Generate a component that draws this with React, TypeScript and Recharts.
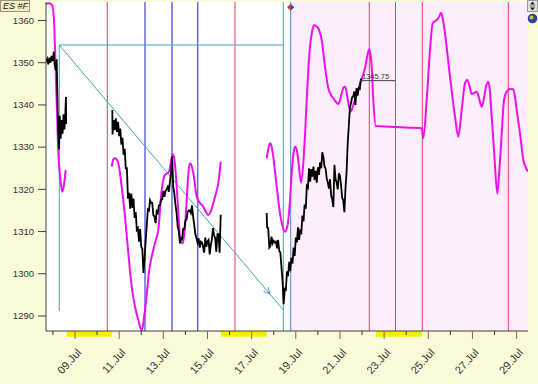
import React from 'react';
import {
  ComposedChart,
  Line,
  XAxis,
  YAxis,
  ReferenceLine,
  ReferenceArea,
  ReferenceDot,
  CartesianGrid,
} from 'recharts';

// ---------- axis ranges & ticks ----------
const X_MIN = 7.687;
const X_MAX = 29.516;
const Y_MIN = 1286.44;
const Y_MAX = 1364.38;
const yTicks = [1290, 1300, 1310, 1320, 1330, 1340, 1350, 1360];
const dayTicks = [8, 9, 10, 11, 12, 13, 14, 15, 16, 17, 18, 19, 20, 21, 22, 23, 24, 25, 26, 27, 28, 29];
const monthLabel = 'Jul';

// ---------- annotations ----------
const redLines = [10.463, 16.246, 22.329, 23.515, 24.729, 28.624];
const blueLines = [12.17, 13.393, 14.557];
const projectionStart = 18.769;
const tealVertical = 18.434;
const tealStart = { d: 8.289, v: 1354.2 };
const tealLow = { d: 8.289, v: 1291.2 };
const arrowEnd = { d: 18.434, v: 1291.42 };
const yellowBands = [
  [8.624, 10.662],
  [15.612, 17.682],
  [22.632, 24.702],
];
const lastPrice = 1345.75;
const lastPriceSpan = [21.908, 23.493];
const markerDiamond = { d: 18.769, v: 1363.13 };

// ---------- magenta cycle curve (3 segments) ----------
const magentaA: [number, number][] = [
  [7.69, 1363.9], [7.82, 1364.1], [7.96, 1363.7], [8.05, 1360.1], [8.09, 1354.2], [8.14, 1345.9],
  [8.19, 1337.6], [8.23, 1330.5], [8.28, 1325.8], [8.37, 1321.0], [8.43, 1319.4], [8.5, 1321.0], [8.58, 1324.6],
];
const magentaB: [number, number][] = [
  [10.662, 1325.37], [10.744, 1327.19], [10.812, 1327.36], [10.902, 1326.95], [10.961, 1326.24], [11.038, 1323.87],
  [11.115, 1320.63], [11.265, 1313.52], [11.414, 1304.92], [11.568, 1296.94], [11.717, 1292.2], [11.867, 1289.05],
  [12.021, 1286.5], [12.125, 1289.52], [12.247, 1294.97], [12.351, 1300.42], [12.474, 1304.04], [12.623, 1307.29],
  [12.773, 1310.37], [12.927, 1319.85], [13.076, 1323.4], [13.257, 1324.18], [13.348, 1326.48], [13.425, 1328.37],
  [13.506, 1326.95], [13.606, 1320.63], [13.687, 1313.92], [13.755, 1308.78], [13.878, 1307.22], [13.959, 1309.66],
  [14.059, 1317.48], [14.14, 1324.11], [14.208, 1326.17], [14.285, 1325.53], [14.358, 1323.87], [14.512, 1318.26],
  [14.661, 1316.77], [14.811, 1315.89], [14.933, 1314.63], [15.037, 1313.92], [15.159, 1314.87], [15.264, 1316.69],
  [15.386, 1319.13], [15.49, 1321.43], [15.599, 1326.55],
];
const magentaC: [number, number][] = [
  [17.682, 1327.36], [17.764, 1329.8], [17.832, 1330.91], [17.909, 1330.03], [17.981, 1327.73], [18.135, 1320.63],
  [18.284, 1314.33], [18.398, 1311.32], [18.511, 1309.97], [18.601, 1310.84], [18.66, 1312.74], [18.737, 1317.48],
  [18.814, 1323.8], [18.887, 1328.14], [18.964, 1330.1], [19.041, 1329.32], [19.113, 1326.95], [19.236, 1321.58],
  [19.34, 1326.17], [19.417, 1332.88], [19.494, 1341.17], [19.566, 1348.27], [19.643, 1353.79], [19.734, 1357.28],
  [19.824, 1358.93], [19.915, 1358.7], [20.019, 1358.15], [20.173, 1355.38], [20.323, 1349.06], [20.472, 1343.94],
  [20.594, 1342.35], [20.698, 1341.57], [20.821, 1340.69], [20.925, 1340.22], [21.002, 1341.17], [21.079, 1342.75],
  [21.151, 1344.01], [21.228, 1344.32], [21.283, 1343.54], [21.332, 1341.95], [21.486, 1338.39], [21.591, 1339.75],
  [21.681, 1341.17], [21.908, 1345.12], [22.134, 1348.68], [22.247, 1351.83], [22.329, 1353.18], [22.383, 1351.83],
  [22.437, 1349.06], [22.51, 1341.17], [22.619, 1335.01], [22.813, 1334.96], [23.266, 1334.84], [23.719, 1334.72],
  [24.172, 1334.6], [24.702, 1334.46], [24.774, 1332.09], [24.928, 1341.17], [25.078, 1353.01], [25.2, 1359.34],
  [25.381, 1360.12], [25.486, 1360.83], [25.576, 1361.85], [25.667, 1360.12], [25.757, 1356.97], [25.984, 1346.69],
  [26.21, 1337.21], [26.36, 1332.47], [26.514, 1338.8], [26.663, 1345.12], [26.767, 1345.9], [26.867, 1344.48],
  [26.967, 1342.59], [27.071, 1342.82], [27.193, 1343.13], [27.297, 1341.64], [27.419, 1339.58], [27.524, 1341.64],
  [27.614, 1344.32], [27.718, 1345.5], [27.795, 1343.06], [27.841, 1339.58], [27.977, 1329.32], [28.126, 1319.06],
  [28.203, 1323.4], [28.28, 1329.32], [28.362, 1336.43], [28.43, 1341.17], [28.552, 1343.13], [28.701, 1343.77],
  [28.851, 1343.7], [28.928, 1341.88], [29.004, 1338.8], [29.154, 1333.28], [29.304, 1326.95], [29.426, 1325.06],
  [29.5, 1324.18],
];

// ---------- price series (3 segments) ----------
const priceA: [number, number][] = [
  [7.69, 1350.2], [7.74, 1350.9], [7.79, 1349.6], [7.84, 1351.2], [7.89, 1350.0], [7.94, 1351.6], [7.99, 1350.4],
  [8.04, 1352.6], [8.08, 1349.4], [8.13, 1348.2], [8.17, 1350.8], [8.2, 1343.0], [8.24, 1334.0], [8.28, 1329.5],
  [8.31, 1337.4], [8.35, 1332.0], [8.4, 1336.4], [8.44, 1333.2], [8.48, 1337.8], [8.52, 1334.2], [8.56, 1337.6],
  [8.59, 1341.9], [8.6, 1335.5],
];
const priceB: [number, number][] = [
  [10.69, 1338.8], [10.7, 1333.0], [10.75, 1336.4], [10.8, 1334.0], [10.85, 1336.8], [10.9, 1333.6], [10.95, 1336.0],
  [11.0, 1332.6], [11.05, 1334.4], [11.1, 1330.6], [11.15, 1332.2], [11.2, 1328.2], [11.25, 1329.6], [11.3, 1325.0],
  [11.35, 1325.0], [11.4, 1317.8], [11.45, 1319.2], [11.5, 1315.4], [11.55, 1319.0], [11.6, 1315.6], [11.65, 1317.8],
  [11.7, 1313.2], [11.75, 1314.6], [11.8, 1310.4], [11.85, 1310.8], [11.9, 1307.6], [11.95, 1310.6], [12.0, 1306.4],
  [12.05, 1305.9], [12.1, 1300.2], [12.15, 1303.4], [12.2, 1307.8], [12.25, 1311.4], [12.3, 1315.2], [12.35, 1315.0],
  [12.4, 1317.4], [12.45, 1316.8], [12.5, 1316.8], [12.55, 1313.8], [12.6, 1313.6], [12.65, 1312.0], [12.7, 1314.8],
  [12.75, 1314.4], [12.8, 1316.2], [12.85, 1316.2], [12.9, 1317.6], [12.95, 1317.6], [13.0, 1319.6], [13.05, 1318.2],
  [13.1, 1319.6], [13.15, 1320.0], [13.2, 1320.6], [13.25, 1319.4], [13.3, 1321.8], [13.35, 1324.0], [13.4, 1327.8],
  [13.45, 1320.6], [13.5, 1319.0], [13.55, 1316.4], [13.6, 1314.4], [13.65, 1311.2], [13.7, 1310.2], [13.75, 1307.2],
  [13.8, 1308.4], [13.85, 1308.2], [13.9, 1310.6], [13.95, 1310.6], [14.0, 1312.6], [14.05, 1312.8], [14.1, 1314.6],
  [14.15, 1315.0], [14.2, 1315.0], [14.25, 1314.4], [14.3, 1316.2], [14.35, 1313.6], [14.4, 1311.6], [14.45, 1309.4],
  [14.5, 1308.4], [14.55, 1307.4], [14.6, 1308.4], [14.65, 1306.2], [14.7, 1307.6], [14.75, 1307.4], [14.8, 1306.4],
  [14.85, 1305.0], [14.9, 1308.6], [14.95, 1306.4], [15.0, 1307.6], [15.05, 1308.0], [15.1, 1304.6], [15.15, 1306.8],
  [15.2, 1308.2], [15.25, 1310.8], [15.3, 1309.2], [15.35, 1308.4], [15.4, 1305.2], [15.45, 1309.4], [15.5, 1309.4],
  [15.55, 1305.0], [15.6, 1314.0],
];
const priceC: [number, number][] = [
  [17.68, 1314.4], [17.7, 1311.0], [17.75, 1310.8], [17.8, 1306.2], [17.85, 1306.6], [17.9, 1308.8], [17.95, 1307.2],
  [18.0, 1307.8], [18.05, 1307.4], [18.1, 1307.6], [18.15, 1306.0], [18.2, 1308.0], [18.25, 1305.4], [18.3, 1305.0],
  [18.35, 1301.6], [18.4, 1298.2], [18.45, 1292.8], [18.5, 1296.4], [18.55, 1296.2], [18.6, 1300.6], [18.65, 1299.4],
  [18.7, 1302.8], [18.75, 1300.6], [18.8, 1303.8], [18.85, 1302.4], [18.9, 1306.2], [18.95, 1304.2], [19.0, 1308.6],
  [19.05, 1307.4], [19.1, 1311.0], [19.15, 1308.0], [19.2, 1310.2], [19.25, 1309.8], [19.3, 1313.8], [19.35, 1312.4],
  [19.4, 1316.4], [19.45, 1315.4], [19.5, 1320.8], [19.55, 1320.4], [19.6, 1325.0], [19.65, 1321.8], [19.7, 1324.8],
  [19.75, 1323.0], [19.8, 1325.4], [19.85, 1322.2], [19.9, 1324.4], [19.95, 1321.6], [20.0, 1325.2], [20.05, 1323.4],
  [20.1, 1326.4], [20.15, 1325.0], [20.2, 1328.8], [20.25, 1327.6], [20.3, 1325.4], [20.35, 1324.9], [20.4, 1322.6],
  [20.45, 1321.6], [20.5, 1320.2], [20.55, 1322.4], [20.6, 1318.6], [20.65, 1317.6], [20.7, 1315.8], [20.75, 1325.8],
  [20.8, 1322.4], [20.85, 1321.6], [20.9, 1320.0], [20.95, 1323.8], [21.0, 1323.2], [21.05, 1321.0], [21.1, 1318.0],
  [21.15, 1317.4], [21.2, 1314.6], [21.25, 1320.2], [21.3, 1324.2], [21.35, 1330.8], [21.4, 1335.0], [21.45, 1339.4],
  [21.5, 1340.4], [21.55, 1341.8], [21.6, 1342.0], [21.65, 1343.2], [21.7, 1340.0], [21.75, 1344.0], [21.8, 1342.2],
  [21.85, 1344.0], [21.9, 1343.8], [21.95, 1346.2], [21.98, 1345.75],
];

const toPts = (arr: [number, number][]) => arr.map(([d, v]) => ({ d, v }));

const RED = '#E0405E';
const BLUE = '#6666DD';
const TEAL = '#45A0B5';
const MAGENTA = '#EE11EE';
const FONT = 'Arial, "Liberation Sans", sans-serif';

const XTick = (props: any) => {
  const { x, y, payload } = props;
  const day = payload.value as number;
  const major = day % 2 === 1;
  const label = `${String(day).padStart(2, '0')}.${monthLabel}`;
  return (
    <g>
      <line x1={x} x2={x} y1={y} y2={y + (major ? 8 : 4)} stroke={major ? '#B05048' : '#333'} strokeWidth={1} />
      {major && (
        <text
          transform={`translate(${x + 7},${y + 22}) rotate(-48)`}
          textAnchor="end"
          fontSize={11}
          fill="#333"
          fontFamily={FONT}
        >
          {label}
        </text>
      )}
    </g>
  );
};

const ArrowShape = (p: any) => {
  const { x1, y1, x2, y2 } = p;
  const t = 0.94;
  const ax = x1 + (x2 - x1) * t;
  const ay = y1 + (y2 - y1) * t;
  const ang = Math.atan2(y2 - y1, x2 - x1);
  const L = 7;
  const w = 0.45;
  const a1x = ax - L * Math.cos(ang - w);
  const a1y = ay - L * Math.sin(ang - w);
  const a2x = ax - L * Math.cos(ang + w);
  const a2y = ay - L * Math.sin(ang + w);
  return (
    <g>
      <line x1={x1} y1={y1} x2={x2} y2={y2} stroke={TEAL} strokeWidth={1} />
      <polyline points={`${a1x},${a1y} ${ax},${ay} ${a2x},${a2y}`} fill="none" stroke={TEAL} strokeWidth={1} />
    </g>
  );
};

const PriceTag = (p: any) => {
  const { x1, y1, x2, y2 } = p;
  return (
    <g>
      <line x1={x1} y1={y1} x2={x2} y2={y2} stroke="#404040" strokeWidth={1} />
      <text x={x1 + 2} y={y1 - 2} fontSize={7.5} fill="#333" fontFamily={FONT}>
        {lastPrice.toFixed(2)}
      </text>
    </g>
  );
};

const Diamond = (p: any) => {
  const { cx, cy } = p;
  return (
    <g>
      <polygon points={`${cx},${cy - 3.5} ${cx + 3.5},${cy} ${cx},${cy + 3.5}`} fill="#3344CC" />
      <polygon points={`${cx},${cy - 3.5} ${cx - 3.5},${cy} ${cx},${cy + 3.5}`} fill="#CC3333" />
    </g>
  );
};

export default function App() {
  return (
    <div
      style={{
        position: 'absolute',
        left: 0,
        top: 0,
        width: 538,
        height: 384,
        background: '#FBFBDA',
        fontFamily: FONT,
      }}
    >
      <ComposedChart
        width={538}
        height={384}
        margin={{ top: 2, right: 10, bottom: 0, left: 0 }}
        style={{ fontFamily: FONT }}
      >
        <CartesianGrid fill="#FFFFFF" horizontal={false} vertical={false} />
        <XAxis
          type="number"
          dataKey="d"
          domain={[X_MIN, X_MAX]}
          allowDataOverflow
          ticks={dayTicks}
          interval={0}
          height={53}
          tickSize={0}
          tickMargin={0}
          tickLine={false}
          tick={<XTick />}
          axisLine={{ stroke: '#404040' }}
        />
        <YAxis
          type="number"
          dataKey="v"
          domain={[Y_MIN, Y_MAX]}
          allowDataOverflow
          ticks={yTicks}
          width={46}
          tickSize={8}
          tickMargin={4}
          tick={{ fontSize: 9.5, fill: '#333', fontFamily: FONT }}
          tickLine={{ stroke: '#404040' }}
          axisLine={{ stroke: '#404040' }}
        />
        <ReferenceArea
          x1={projectionStart}
          x2={X_MAX}
          y1={Y_MIN}
          y2={Y_MAX}
          fill="#FDEEFD"
          fillOpacity={1}
          stroke="none"
        />
        {yellowBands.map(([a, b], i) => (
          <ReferenceArea
            key={`yb${i}`}
            x1={a}
            x2={b}
            y1={1285.1}
            y2={Y_MIN}
            fill="#F2F200"
            fillOpacity={1}
            stroke="none"
            ifOverflow="visible"
          />
        ))}
        {redLines.map((d, i) => (
          <ReferenceLine key={`r${i}`} x={d} stroke={RED} strokeWidth={1} />
        ))}
        {blueLines.map((d, i) => (
          <ReferenceLine key={`b${i}`} x={d} stroke={BLUE} strokeWidth={1.5} />
        ))}
        <ReferenceLine x={tealVertical} stroke={TEAL} strokeWidth={1} />
        <ReferenceLine x={projectionStart} stroke="#4A88C0" strokeWidth={1} />
        <ReferenceLine
          segment={[
            { x: tealStart.d, y: tealStart.v },
            { x: tealVertical, y: tealStart.v },
          ]}
          stroke={TEAL}
          strokeWidth={1}
        />
        <ReferenceLine
          segment={[
            { x: tealStart.d, y: tealStart.v },
            { x: tealLow.d, y: tealLow.v },
          ]}
          stroke={TEAL}
          strokeWidth={1}
        />
        <ReferenceLine
          segment={[
            { x: tealStart.d, y: tealStart.v },
            { x: arrowEnd.d, y: arrowEnd.v },
          ]}
          shape={ArrowShape}
        />
        <Line data={toPts(magentaA)} dataKey="v" type="monotone" stroke={MAGENTA} strokeWidth={2} dot={false} isAnimationActive={false} />
        <Line data={toPts(magentaB)} dataKey="v" type="monotone" stroke={MAGENTA} strokeWidth={2} dot={false} isAnimationActive={false} />
        <Line data={toPts(magentaC)} dataKey="v" type="monotone" stroke={MAGENTA} strokeWidth={2} dot={false} isAnimationActive={false} />
        <Line data={toPts(priceA)} dataKey="v" type="linear" stroke="#000" strokeWidth={1.8} dot={false} isAnimationActive={false} />
        <Line data={toPts(priceB)} dataKey="v" type="linear" stroke="#000" strokeWidth={1.8} dot={false} isAnimationActive={false} />
        <Line data={toPts(priceC)} dataKey="v" type="linear" stroke="#000" strokeWidth={1.8} dot={false} isAnimationActive={false} />
        <ReferenceLine
          segment={[
            { x: lastPriceSpan[0], y: lastPrice },
            { x: lastPriceSpan[1], y: lastPrice },
          ]}
          shape={PriceTag}
        />
        <ReferenceDot x={markerDiamond.d} y={markerDiamond.v} r={4} shape={Diamond} ifOverflow="visible" />
      </ComposedChart>
      <div
        style={{
          position: 'absolute',
          left: 0,
          top: 0,
          width: 26,
          height: 10,
          border: '1px solid #9A9478',
          background: '#F3EDC6',
          fontSize: 9,
          lineHeight: '10px',
          fontStyle: 'italic',
          color: '#222',
          paddingLeft: 2,
          boxSizing: 'content-box',
          fontFamily: FONT,
        }}
      >
        ES #F
      </div>
      <svg style={{ position: 'absolute', left: 527, top: 0 }} width={11} height={26}>
        <rect x={0.5} y={0.5} width={10} height={11} fill="#E4E4E4" stroke="#999" />
        <polygon points="5.5,1.5 8,4.5 3,4.5" fill="#222" />
        <line x1={2.5} y1={6} x2={8.5} y2={6} stroke="#777" />
        <polygon points="5.5,10.5 8,7.5 3,7.5" fill="#222" />
        <circle cx={5.5} cy={18.5} r={4.8} fill="#2244AA" />
        <circle cx={4.5} cy={17.5} r={2} fill="#D8C030" />
      </svg>
    </div>
  );
}
